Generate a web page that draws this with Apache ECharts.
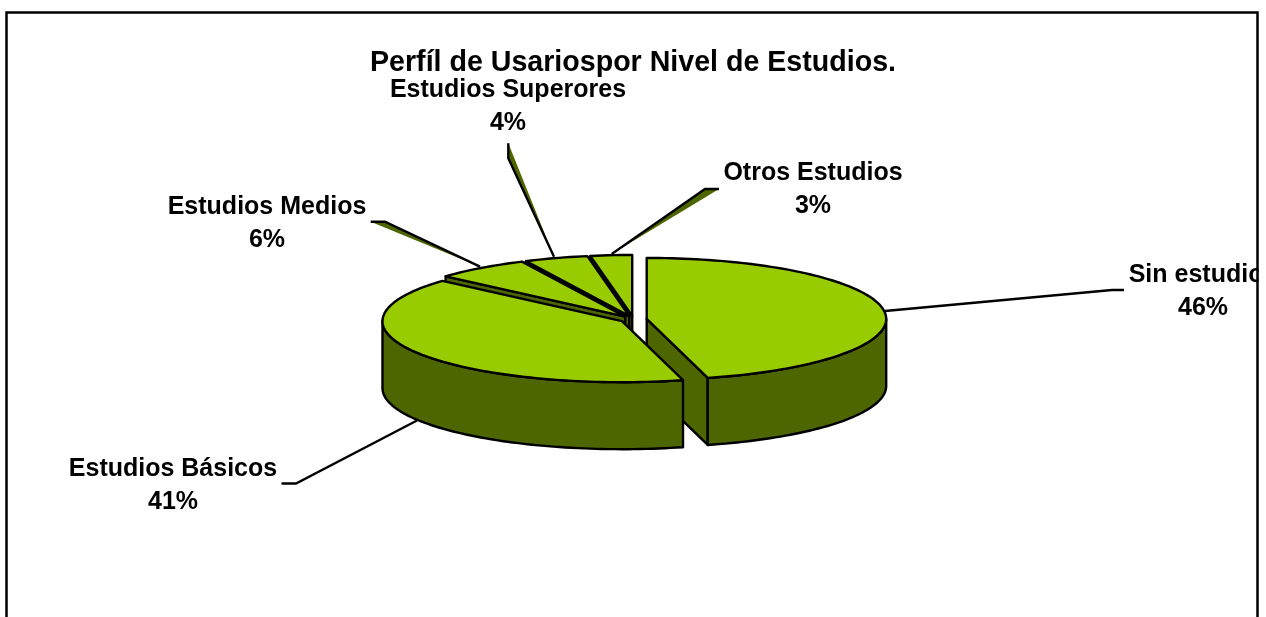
<!DOCTYPE html>
<html>
<head>
<meta charset="utf-8">
<style>html,body{margin:0;padding:0;background:#fff}#c{width:1266px;height:617px}</style>
<script src="https://cdn.jsdelivr.net/npm/echarts@6/dist/echarts.min.js"></script>
</head>
<body>
<div id="c"></div>
<script>
// Data
const categories = ['Sin estudios', 'Estudios Básicos', 'Estudios Medios', 'Estudios Superores', 'Otros Estudios'];
const shares = [45.9, 40.6, 6.4, 4.3, 2.8];
const titleText = 'Perfíl de Usariospor Nivel de Estudios.';

// Painting order of the slices, back to front
const drawOrder = [4, 3, 2, 0, 1];

// Pie layout
const FONT = '"Liberation Sans", Arial, sans-serif';
const TOP = '#99CC00', SIDE = '#4D6600';
const CX = 633.4, CY = 319.4, RX = 239.5, RY = 61, DEPTH = 67, EXPLODE = 0.056;

// Label and leader layout, one row per category
const labelAnchors = [[1203, 292], [173, 486], [267, 224], [508, 107], [813, 190]];
const leaderPaths = [
  [[885, 311], [1112, 290], [1124, 290]],
  [[417, 420.5], [296, 483.5], [281.5, 483.5]],
  [[480, 266.7], [385, 221.7], [370.7, 221.7]],
  [[554, 256.7], [508.3, 158.3], [508.3, 143.3]],
  [[611.7, 254], [705, 189], [719, 189]]
];
const leaderFilled = [false, false, true, true, true];

const total = shares.reduce((a, b) => a + b, 0);
const rad = d => d * Math.PI / 180;

function sliceGeometry(i) {
  let start = 0;
  for (let k = 0; k < i; k++) start += shares[k] / total * 360;
  const end = start + shares[i] / total * 360;
  const mid = rad((start + end) / 2);
  return {
    start, end,
    cx: CX + EXPLODE * RX * Math.sin(mid),
    cy: CY - EXPLODE * RY * Math.cos(mid)
  };
}
function rim(g, deg, drop) {
  return [g.cx + RX * Math.sin(rad(deg)), g.cy - RY * Math.cos(rad(deg)) + (drop || 0)];
}
function arc(g, from, to, drop) {
  const n = Math.max(2, Math.ceil(Math.abs(to - from) / 1.5));
  const pts = [];
  for (let k = 0; k <= n; k++) pts.push(rim(g, from + (to - from) * k / n, drop));
  return pts;
}
const faceStyle = fill => ({ fill, stroke: '#000', lineWidth: 2.4, lineJoin: 'round' });
function poly(points, fill) {
  return { type: 'polygon', shape: { points }, style: faceStyle(fill) };
}

function renderSlice(params, api) {
  const i = api.value(1);
  const g = sliceGeometry(i);
  const apex = [g.cx, g.cy];
  const apexLow = [g.cx, g.cy + DEPTH];
  const children = [];
  // Radial walls turned towards the viewer
  if (Math.sin(rad(g.start)) < -1e-6) {
    const p = rim(g, g.start);
    children.push(poly([apex, p, [p[0], p[1] + DEPTH], apexLow], SIDE));
  }
  if (Math.sin(rad(g.end)) > 1e-6) {
    const p = rim(g, g.end);
    children.push(poly([apex, p, [p[0], p[1] + DEPTH], apexLow], SIDE));
  }
  // Outer curved wall on the front half of the ellipse
  const a = Math.max(g.start, 90), b = Math.min(g.end, 270);
  if (b > a) {
    children.push(poly(arc(g, a, b, 0).concat(arc(g, b, a, DEPTH)), SIDE));
  }
  // Top face
  children.push(poly([apex].concat(arc(g, g.start, g.end, 0)), TOP));
  return { type: 'group', children };
}

function renderLabel(params, api) {
  const i = api.value(1);
  const pts = leaderPaths[i];
  const children = [];
  if (leaderFilled[i]) {
    children.push({ type: 'polygon', shape: { points: pts }, style: { fill: SIDE, stroke: null } });
  }
  children.push({ type: 'polyline', shape: { points: pts }, style: { fill: null, stroke: '#000', lineWidth: 2.4 } });
  children.push({
    type: 'text',
    x: labelAnchors[i][0], y: labelAnchors[i][1],
    style: {
      text: categories[i] + '\n' + Math.round(api.value(0) / total * 100) + '%',
      fill: '#000', font: 'bold 25px ' + FONT,
      lineHeight: 33, align: 'center', verticalAlign: 'middle'
    }
  });
  return { type: 'group', children };
}

const chart = echarts.init(document.getElementById('c'), null, { renderer: 'canvas' });
chart.setOption({
  animation: false,
  backgroundColor: '#fff',
  title: {
    text: titleText, left: 628, top: 44, textAlign: 'center',
    textStyle: { fontFamily: FONT, fontWeight: 'bold', fontSize: 28.6, color: '#000' }
  },
  graphic: [
    { type: 'rect', z: 100, shape: { x: 1258.5, y: 0, width: 8, height: 617 }, style: { fill: '#fff' } },
    { type: 'rect', z: 101, shape: { x: 6.5, y: 12.5, width: 1251, height: 700 }, style: { fill: 'none', stroke: '#000', lineWidth: 2.5 } }
  ],
  series: [
    {
      type: 'custom', coordinateSystem: 'none', z: 2, clip: false, silent: true,
      renderItem: renderSlice,
      data: drawOrder.map(i => [shares[i], i])
    },
    {
      type: 'custom', coordinateSystem: 'none', z: 3, clip: false, silent: true,
      renderItem: renderLabel,
      data: categories.map((c, i) => [shares[i], i])
    }
  ]
});
</script>
</body>
</html>
